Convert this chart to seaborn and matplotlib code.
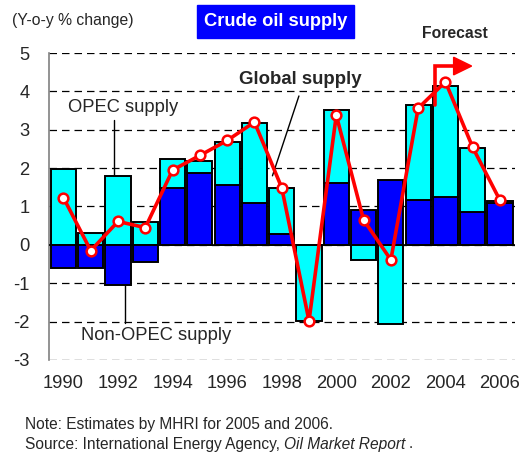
import numpy as np
import matplotlib
matplotlib.use("Agg")
import matplotlib.pyplot as plt
import matplotlib.patches as mpatches
import seaborn as sns

# ── data (y-o-y % change, contributions) ─────────────────────
years = list(range(1990, 2007))
non_opec = [-0.61, -0.60, -1.05, -0.44, 1.48, 1.88, 1.56, 1.10, 0.28, 0.00,
            1.62, 0.91, 1.69, 1.17, 1.26, 0.85, 1.08]
opec = [1.97, 0.30, 1.80, 0.59, 0.75, 0.31, 1.13, 2.08, 1.20, -1.98,
        1.89, -0.39, -2.07, 2.47, 2.89, 1.68, 0.07]
global_supply = [1.23, -0.15, 0.61, 0.45, 1.95, 2.33, 2.72, 3.20, 1.49, -1.98,
                 3.38, 0.65, -0.39, 3.56, 4.25, 2.54, 1.16]
year_ticks = list(range(1990, 2007, 2))
y_ticks = list(range(-3, 6))

sns.set_style("white")
plt.rcParams['font.family'] = ['Liberation Sans', 'DejaVu Sans']
plt.rcParams['axes.unicode_minus'] = False

W, H = 526, 454
fig = plt.figure(figsize=(W / 100, H / 100), dpi=100)
ax = fig.add_axes([49 / W, 1 - 360 / H, 466 / W, 307 / H])

x = np.array(years, dtype=float)
no = np.array(non_opec)
op = np.array(opec)
same_sign = (no * op) > 0
opec_bottom = np.where(same_sign, no, 0.0)

ax.bar(x, no, width=0.92, color="#0000FF", edgecolor="black", linewidth=1.4, zorder=3)
ax.bar(x, op, bottom=opec_bottom, width=0.92, color="#00FFFF", edgecolor="black",
       linewidth=1.4, zorder=3)

sns.lineplot(x=years, y=global_supply, ax=ax, color="#FF0000", linewidth=2.6,
             marker="o", markersize=7, markerfacecolor="white",
             markeredgecolor="#FF0000", markeredgewidth=1.8, zorder=5)

ax.set_xlim(1989.47, 2006.55)
ax.set_ylim(-3, 5)
for yv in y_ticks:
    ax.axhline(yv, color="black", lw=0.9, ls=(0, (6, 4)), zorder=1)
ax.axhline(0, color="black", lw=1.2, zorder=4)

ax.set_xticks(year_ticks)
ax.set_xticklabels([str(y) for y in year_ticks])
ax.set_yticks(y_ticks)
ax.tick_params(axis="x", length=0, pad=11, labelsize=13.2)
ax.tick_params(axis="y", length=3.6, width=1, color="#808080", direction="out",
               pad=10.5, labelsize=13.2)
for s in ["top", "right", "bottom"]:
    ax.spines[s].set_visible(False)
ax.spines["left"].set_color("#808080")
ax.spines["left"].set_linewidth(1.2)

# ── annotations ──────────────────────────────────────────────
ax.text(1992.2, 3.59, "OPEC supply", ha="center", va="center", fontsize=13.2)
ax.plot([1991.87, 1991.87], [3.26, 1.80], color="black", lw=1)
ax.text(1993.4, -2.37, "Non-OPEC supply", ha="center", va="center", fontsize=13.2)
ax.plot([1992.24, 1992.24], [-1.04, -2.03], color="black", lw=1)
ax.text(1998.69, 4.30, "Global supply", ha="center", va="center", fontsize=13.4,
        fontweight="bold")
ax.plot([1998.63, 1997.66], [3.88, 1.80], color="black", lw=1)

ax.text(2004.34, 5.52, "Forecast", ha="center", va="center", fontsize=11.3,
        fontweight="bold", clip_on=False)
ax.plot([2003.61, 2003.61, 2004.34], [3.65, 4.66, 4.66], color="#FF0000", lw=2.6,
        clip_on=False, solid_joinstyle="miter", zorder=6)
ax.add_patch(mpatches.Polygon([[2004.30, 4.89], [2004.30, 4.43], [2004.96, 4.66]],
                              closed=True, color="#FF0000", clip_on=False, zorder=6))

# ── header and footer ────────────────────────────────────────
fig.text(12 / W, 1 - 20 / H, "(Y-o-y % change)", ha="left", va="center", fontsize=11.3)
fig.patches.append(mpatches.Rectangle((197 / W, 1 - 38 / H), 157 / W, 33 / H,
                                      transform=fig.transFigure, color="#0000FF"))
fig.text(276 / W, 1 - 21 / H, "Crude oil supply", ha="center", va="center",
         fontsize=13.2, fontweight="bold", color="white")

fig.text(25 / W, 1 - 424 / H, "Note: Estimates by MHRI for 2005 and 2006.",
         ha="left", va="center", fontsize=11.2)
t1 = fig.text(25 / W, 1 - 444 / H, "Source: International Energy Agency, ",
              ha="left", va="center", fontsize=11.2)
t2 = ax.annotate("Oil Market Report", xy=(1, 0.5), xycoords=t1, ha="left",
                 va="center", fontsize=11.2, style="italic", annotation_clip=False)
ax.annotate(".", xy=(1, 0.5), xycoords=t2, xytext=(2, 0), textcoords="offset points",
            ha="left", va="center", fontsize=11.2, annotation_clip=False)

fig.savefig("out.png", dpi=100)
